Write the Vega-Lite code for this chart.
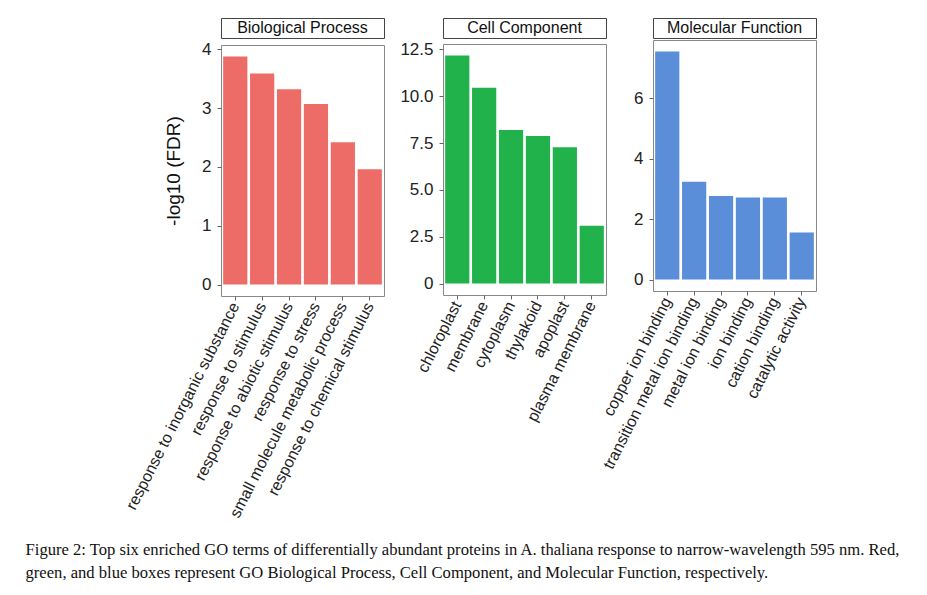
{
  "$schema": "https://vega.github.io/schema/vega-lite/v6.json",
  "padding": {"left": 25, "top": 17, "right": 5, "bottom": 5},
  "background": "white",
  "title": {
    "text": ["Figure 2: Top six enriched GO terms of differentially abundant proteins in A. thaliana response to narrow-wavelength 595 nm. Red,", "green, and blue boxes represent GO Biological Process, Cell Component, and Molecular Function, respectively."],
    "orient": "bottom",
    "anchor": "start",
    "dx": -97,
    "offset": 22,
    "font": "Liberation Serif",
    "fontSize": 16.6,
    "fontWeight": "normal",
    "color": "#111",
    "lineHeight": 23
  },
  "datasets": {
    "go": [
      {"panel": "Biological Process", "term": "response to inorganic substance", "value": 3.88, "order": 1},
      {"panel": "Biological Process", "term": "response to stimulus", "value": 3.59, "order": 2},
      {"panel": "Biological Process", "term": "response to abiotic stimulus", "value": 3.32, "order": 3},
      {"panel": "Biological Process", "term": "response to stress", "value": 3.07, "order": 4},
      {"panel": "Biological Process", "term": "small molecule metabolic process", "value": 2.42, "order": 5},
      {"panel": "Biological Process", "term": "response to chemical stimulus", "value": 1.96, "order": 6},
      {"panel": "Cell Component", "term": "chloroplast", "value": 12.18, "order": 1},
      {"panel": "Cell Component", "term": "membrane", "value": 10.45, "order": 2},
      {"panel": "Cell Component", "term": "cytoplasm", "value": 8.2, "order": 3},
      {"panel": "Cell Component", "term": "thylakoid", "value": 7.88, "order": 4},
      {"panel": "Cell Component", "term": "apoplast", "value": 7.28, "order": 5},
      {"panel": "Cell Component", "term": "plasma membrane", "value": 3.09, "order": 6},
      {"panel": "Molecular Function", "term": "copper ion binding", "value": 7.54, "order": 1},
      {"panel": "Molecular Function", "term": "transition metal ion binding", "value": 3.23, "order": 2},
      {"panel": "Molecular Function", "term": "metal ion binding", "value": 2.76, "order": 3},
      {"panel": "Molecular Function", "term": "ion binding", "value": 2.71, "order": 4},
      {"panel": "Molecular Function", "term": "cation binding", "value": 2.71, "order": 5},
      {"panel": "Molecular Function", "term": "catalytic activity", "value": 1.56, "order": 6}
    ],
    "panels": [
      {"panel": "Biological Process"},
      {"panel": "Cell Component"},
      {"panel": "Molecular Function"}
    ]
  },
  "spacing": -12,
  "hconcat": [
    {
      "spacing": 0,
      "vconcat": [
        {
          "data": {"name": "panels"},
          "transform": [{"filter": "datum.panel == 'Biological Process'"}],
          "width": 163, "height": 20,
          "view": {"stroke": "#444", "fill": "white"},
          "mark": {"type": "text", "font": "Liberation Sans", "fontSize": 16, "color": "#111"},
          "encoding": {"text": {"field": "panel"}}
        },
        {
          "data": {"name": "go"},
          "transform": [{"filter": "datum.panel == 'Biological Process'"}],
          "width": 163, "height": 251,
          "mark": {"type": "bar", "color": "#EE6C67"},
          "encoding": {
            "x": {"field": "term", "type": "nominal", "sort": {"field": "order", "op": "min"},
                  "scale": {"paddingInner": 0.1, "paddingOuter": 0.08},
                  "axis": {"title": null}},
            "y": {"field": "value", "type": "quantitative",
                  "scale": {"domain": [-0.194, 4.074], "nice": false, "zero": false},
                  "axis": {"values": [0, 1, 2, 3, 4], "title": "-log10 (FDR)", "titleFontSize": 19, "titleFont": "Liberation Sans", "titleFontWeight": "normal", "titleColor": "#111", "titlePadding": 18}},
            "y2": {"datum": 0}
          }
        }
      ]
    },
    {
      "spacing": 0,
      "vconcat": [
        {
          "data": {"name": "panels"},
          "transform": [{"filter": "datum.panel == 'Cell Component'"}],
          "width": 163, "height": 20,
          "view": {"stroke": "#444", "fill": "white"},
          "mark": {"type": "text", "font": "Liberation Sans", "fontSize": 16, "color": "#111"},
          "encoding": {"text": {"field": "panel"}}
        },
        {
          "data": {"name": "go"},
          "transform": [{"filter": "datum.panel == 'Cell Component'"}],
          "width": 163, "height": 251,
          "mark": {"type": "bar", "color": "#22B24C"},
          "encoding": {
            "x": {"field": "term", "type": "nominal", "sort": {"field": "order", "op": "min"},
                  "scale": {"paddingInner": 0.1, "paddingOuter": 0.08},
                  "axis": {"title": null}},
            "y": {"field": "value", "type": "quantitative",
                  "scale": {"domain": [-0.609, 12.789], "nice": false, "zero": false},
                  "axis": {"values": [0, 2.5, 5, 7.5, 10, 12.5], "labelExpr": "datum.value == 0 ? '0' : format(datum.value, '.1f')", "title": null, "minExtent": 69}},
            "y2": {"datum": 0}
          }
        }
      ]
    },
    {
      "spacing": 0,
      "vconcat": [
        {
          "data": {"name": "panels"},
          "transform": [{"filter": "datum.panel == 'Molecular Function'"}],
          "width": 163, "height": 20,
          "view": {"stroke": "#444", "fill": "white"},
          "mark": {"type": "text", "font": "Liberation Sans", "fontSize": 16, "color": "#111"},
          "encoding": {"text": {"field": "panel"}}
        },
        {
          "data": {"name": "go"},
          "transform": [{"filter": "datum.panel == 'Molecular Function'"}],
          "width": 163, "height": 251,
          "mark": {"type": "bar", "color": "#5B8ED8"},
          "encoding": {
            "x": {"field": "term", "type": "nominal", "sort": {"field": "order", "op": "min"},
                  "scale": {"paddingInner": 0.1, "paddingOuter": 0.08},
                  "axis": {"title": null}},
            "y": {"field": "value", "type": "quantitative",
                  "scale": {"domain": [-0.377, 7.917], "nice": false, "zero": false},
                  "axis": {"values": [0, 2, 4, 6], "title": null, "minExtent": 57}},
            "y2": {"datum": 0}
          }
        }
      ]
    }
  ],
  "config": {
    "view": {"stroke": "#888", "strokeWidth": 1},
    "axis": {
      "domain": false,
      "grid": false,
      "ticks": true,
      "tickColor": "#666",
      "tickSize": 4,
      "labelFont": "Liberation Sans",
      "labelColor": "#222",
      "labelPadding": 3
    },
    "axisY": {"labelFontSize": 17, "labelPadding": 6},
    "axisX": {"labelFontSize": 16, "labelAngle": -63, "labelLimit": 0}
  }
}
